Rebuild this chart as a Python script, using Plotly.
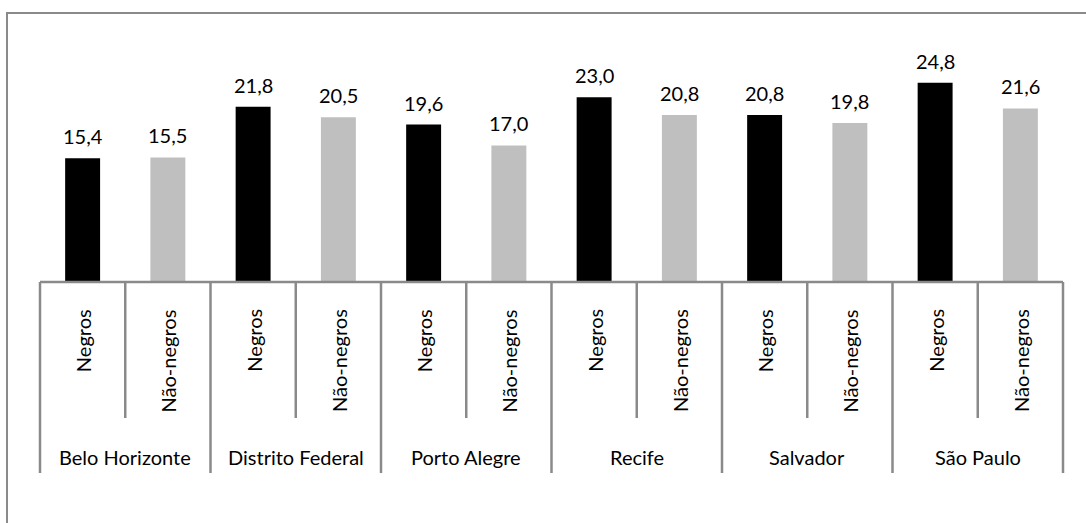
import plotly.graph_objects as go

cities = ["Belo Horizonte", "Distrito Federal", "Porto Alegre", "Recife", "Salvador", "São Paulo"]
groups = ["Negros", "Não-negros"]
negros = [15.4, 21.8, 19.6, 23.0, 20.8, 24.8]
nao_negros = [15.5, 20.5, 17.0, 20.8, 19.8, 21.6]

W, H = 1086, 523
PLOT_L, PLOT_R, PLOT_T, PLOT_B = 40, 1063, 41, 282
FONT = "Lato"
FS = 20
LINE = "#8a8a8a"


def py(px):
    """pixel row -> paper y"""
    return (PLOT_B - px) / (PLOT_B - PLOT_T)


def px_x(px):
    return (px - PLOT_L) / (PLOT_R - PLOT_L)


n = len(cities) * len(groups)
x_neg = [i * 2 for i in range(len(cities))]
x_nao = [i * 2 + 1 for i in range(len(cities))]

fig = go.Figure()
fig.add_trace(go.Bar(x=x_neg, y=negros, width=0.41, marker=dict(color="#000000", line_width=0),
                     name=groups[0]))
fig.add_trace(go.Bar(x=x_nao, y=nao_negros, width=0.41, marker=dict(color="#BFBFBF", line_width=0),
                     name=groups[1]))

ann = []
for xs, vals in ((x_neg, negros), (x_nao, nao_negros)):
    for x, v in zip(xs, vals):
        ann.append(dict(x=x, y=v, xref="x", yref="y", text=f"{v:.1f}".replace(".", ","),
                        showarrow=False, yanchor="bottom", yshift=8,
                        font=dict(family=FONT, size=FS, color="#000000")))

# group labels (rotated) and city labels
for i in range(n):
    ann.append(dict(x=i, y=py(307), xref="x", yref="paper", text=groups[i % 2],
                    textangle=-90, showarrow=False, yanchor="top",
                    font=dict(family=FONT, size=FS, color="#000000")))
for c, name in enumerate(cities):
    ann.append(dict(x=c * 2 + 0.5, y=py(457), xref="x", yref="paper", text=name,
                    showarrow=False, yanchor="middle",
                    font=dict(family=FONT, size=FS, color="#000000")))

shapes = [
    # outer chart border
    dict(type="rect", xref="paper", yref="paper", x0=px_x(7), x1=px_x(1100),
         y0=py(13), y1=py(540), line=dict(color=LINE, width=2), layer="below"),
    # category axis line
    dict(type="line", xref="paper", yref="paper", x0=0, x1=1, y0=0, y1=0,
         line=dict(color=LINE, width=2.5)),
]
for k in range(n + 1):
    long_tick = k % 2 == 0
    shapes.append(dict(type="line", xref="paper", yref="paper", x0=k / n, x1=k / n,
                       y0=0, y1=py(473 if long_tick else 418),
                       line=dict(color=LINE, width=2.5)))

fig.update_layout(
    width=W, height=H,
    margin=dict(l=PLOT_L, r=W - PLOT_R, t=PLOT_T, b=H - PLOT_B),
    paper_bgcolor="white", plot_bgcolor="white",
    showlegend=False,
    barmode="overlay",
    xaxis=dict(range=[-0.5, n - 0.5], visible=False, fixedrange=True),
    yaxis=dict(range=[0, 30], visible=False, fixedrange=True),
    annotations=ann,
    shapes=shapes,
)

# drop the page's default 8px body margin so the figure sits at the window origin
fig.write_html("out.html", config={"displayModeBar": False},
               post_script="document.body.style.margin='0';document.body.style.overflow='hidden';")
